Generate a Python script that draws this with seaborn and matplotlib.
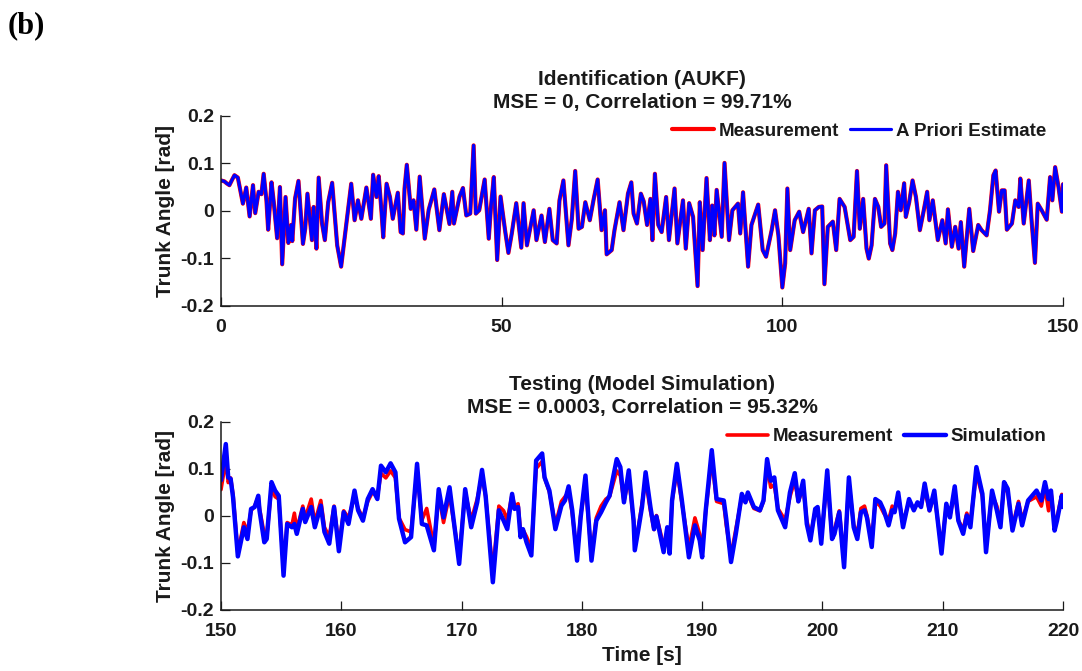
import numpy as np
import pandas as pd
import matplotlib
matplotlib.use("Agg")
import matplotlib.pyplot as plt
import seaborn as sns

# ---------------- Identification segment (0-150 s) ----------------
id_time = [
    0.0, 0.6, 1.0, 1.5, 2.0, 2.4, 3.0, 3.9, 4.5, 5.1, 5.7, 6.1, 6.7, 7.2, 7.6, 8.1, 8.4, 9.0, 9.4, 10.0,
    10.5, 10.9, 11.5, 12.0, 12.5, 12.7, 13.2, 13.8, 14.6, 15.0, 15.4, 16.2, 16.5, 17.0, 17.4, 18.0, 18.5,
    19.1, 19.8, 20.7, 21.4, 22.3, 23.2, 23.8, 24.4, 25.0, 25.9, 26.7, 27.1, 27.7, 28.1, 28.6, 28.9, 29.5,
    30.1, 30.6, 31.5, 32.0, 32.4, 32.7, 33.1, 33.8, 34.3, 34.8, 35.4, 36.3, 37.0, 38.0, 38.9, 39.7, 40.7,
    41.2, 41.5, 42.5, 43.1, 43.7, 44.4, 45.0, 45.4, 46.0, 46.97, 47.7, 48.1, 48.6, 49.2, 49.8, 50.6, 51.2,
    51.8, 52.6, 53.5, 53.9, 54.5, 55.7, 56.2, 57.1, 57.7, 58.5, 59.1, 59.8, 60.3, 61.0, 61.9, 62.5, 63.1,
    63.7, 64.3, 64.9, 65.7, 66.4, 67.1, 67.8, 68.4, 68.7, 69.6, 70.1, 71.0, 71.7, 72.5, 73.1, 73.5, 74.1,
    74.8, 75.3, 75.9, 76.5, 76.85, 77.3, 77.9, 78.5, 79.3, 79.8, 80.8, 81.3, 82.3, 82.8, 83.4, 84.1, 84.9,
    85.3, 85.8, 86.5, 87.1, 87.5, 87.9, 88.3, 89.2, 89.7, 90.5, 91.1, 92.1, 92.5, 93.0, 93.9, 94.5, 95.7,
    96.5, 97.1, 98.1, 98.7, 99.3, 100.0, 100.5, 100.9, 101.4, 102.2, 103.0, 103.7, 104.7, 105.2, 105.8,
    106.5, 107.1, 107.5, 108.1, 109.0, 109.6, 110.2, 111.1, 112.1, 112.7, 113.3, 113.8, 114.4, 115.0,
    115.4, 115.9, 116.5, 117.1, 117.6, 118.2, 118.5, 119.2, 119.6, 120.1, 120.6, 121.1, 121.7, 122.0,
    122.6, 123.2, 123.8, 124.5, 125.2, 125.8, 126.2, 126.8, 127.7, 128.5, 129.1, 129.5, 130.2, 130.8,
    131.4, 131.8, 132.4, 133.3, 134.0, 134.9, 135.5, 136.4, 137.0, 137.6, 138.0, 138.6, 139.1, 139.6,
    140.0, 140.9, 141.5, 142.1, 142.4, 143.0, 143.9, 144.4, 145.0, 145.5, 146.2, 147.1, 147.7, 148.1,
    148.6, 149.2, 149.8, 150.0,
]
id_measurement = [
    0.064, 0.062, 0.058, 0.054, 0.066, 0.075, 0.070, 0.015, 0.049, -0.012, 0.054, -0.005, 0.040, 0.035,
    0.078, 0.021, -0.040, 0.060, 0.018, -0.058, 0.050, -0.113, 0.029, -0.068, -0.030, -0.064, 0.026, 0.063,
    -0.070, -0.038, 0.036, -0.062, 0.008, -0.080, 0.070, -0.027, -0.062, 0.018, 0.059, -0.073, -0.118,
    -0.031, 0.057, -0.020, 0.022, -0.017, 0.049, -0.017, 0.076, 0.029, 0.073, -0.003, -0.056, 0.057, 0.029,
    -0.017, 0.038, -0.045, -0.048, 0.047, 0.097, 0.004, 0.022, -0.040, 0.072, -0.059, 0.002, 0.045, -0.041,
    0.035, -0.028, 0.040, -0.027, 0.030, 0.048, -0.010, -0.006, 0.138, -0.006, 0.001, 0.066, -0.059, 0.009,
    0.071, -0.104, 0.030, -0.041, -0.089, -0.048, 0.016, -0.078, 0.016, -0.073, 0.001, -0.062, -0.010,
    -0.066, 0.004, -0.062, -0.069, 0.022, 0.064, -0.073, -0.017, 0.084, -0.038, -0.034, 0.018, -0.020,
    0.025, 0.066, -0.041, 0.001, -0.092, -0.083, -0.041, 0.018, -0.041, 0.036, 0.060, -0.006, -0.027,
    0.036, 0.020, -0.030, 0.025, -0.062, 0.078, -0.030, -0.045, 0.029, -0.062, 0.047, -0.069, 0.022,
    -0.080, 0.016, -0.013, -0.159, 0.018, -0.083, 0.069, -0.062, 0.011, -0.052, 0.044, -0.055, 0.101,
    -0.062, 0.001, 0.015, -0.048, 0.039, -0.118, -0.030, 0.013, -0.083, -0.097, -0.041, 0.001, -0.052,
    -0.162, -0.111, 0.047, -0.083, -0.020, -0.002, -0.045, 0.004, -0.090, 0.001, 0.008, 0.009, -0.155,
    -0.034, -0.023, -0.083, 0.025, 0.008, -0.062, -0.055, 0.084, -0.038, 0.025, -0.080, -0.101, -0.073,
    0.025, 0.008, -0.034, -0.027, 0.096, -0.069, -0.083, -0.048, 0.040, 0.001, 0.058, -0.013, 0.018,
    0.064, 0.029, -0.041, 0.001, 0.040, -0.020, 0.022, -0.062, -0.020, -0.069, 0.003, -0.076, -0.034,
    -0.080, -0.024, -0.118, 0.004, -0.085, -0.030, -0.041, -0.052, 0.001, 0.075, 0.085, -0.002, 0.043,
    0.043, -0.040, -0.027, 0.022, 0.008, 0.068, -0.027, 0.064, -0.020, -0.110, 0.015, 0.001, -0.019,
    0.071, 0.022, 0.092, 0.050, -0.002, 0.056,
]
# the a priori estimate tracks the measurement almost exactly
id_apriori = list(id_measurement)

# ---------------- Testing segment (150-220 s) ----------------
test_time = [
    150.0, 150.4, 150.6, 150.8, 151.0, 151.4, 151.9, 152.2, 152.5, 152.8, 153.1, 153.2, 153.6, 153.8,
    154.2, 154.5, 154.8, 155.2, 155.5, 155.9, 156.1, 156.3, 156.8, 157.0, 157.5, 157.8, 158.3, 158.6,
    159.0, 159.4, 159.8, 160.2, 160.6, 161.1, 161.4, 161.8, 162.2, 162.6, 163.0, 163.3, 163.7, 164.1,
    164.5, 164.8, 165.3, 165.8, 166.3, 166.7, 167.1, 167.7, 168.1, 168.5, 169.0, 169.8, 170.3, 170.8,
    171.3, 171.7, 172.0, 172.6, 173.1, 173.5, 173.8, 174.2, 174.4, 174.7, 174.9, 175.1, 175.4, 175.8,
    176.2, 176.7, 176.9, 177.3, 177.8, 178.3, 178.6, 178.9, 179.2, 179.6, 179.9, 180.3, 180.8, 181.2,
    181.6, 182.0, 182.3, 182.9, 183.2, 183.5, 183.9, 184.3, 184.4, 184.7, 185.0, 185.3, 185.7, 186.0,
    186.2, 186.8, 187.1, 187.3, 187.5, 187.9, 188.3, 188.9, 189.4, 189.8, 190.0, 190.3, 190.8, 191.2,
    191.8, 192.0, 192.4, 192.8, 193.3, 193.6, 193.8, 194.3, 194.8, 195.1, 195.4, 195.7, 196.0, 196.3,
    196.9, 197.3, 197.7, 198.0, 198.4, 198.7, 199.0, 199.4, 199.6, 199.9, 200.4, 200.8, 201.0, 201.4,
    201.8, 202.2, 202.6, 202.9, 203.2, 203.5, 203.7, 204.1, 204.4, 204.8, 205.1, 205.5, 205.8, 206.0,
    206.3, 206.7, 207.2, 207.6, 207.9, 208.2, 208.5, 208.9, 209.3, 209.9, 210.3, 210.6, 211.0, 211.3,
    211.7, 212.0, 212.3, 212.8, 213.3, 213.6, 214.1, 214.5, 214.8, 215.1, 215.4, 215.8, 216.3, 216.6,
    217.1, 217.8, 218.2, 218.5, 218.8, 219.0, 219.3, 219.5, 219.9, 220.0,
]
test_simulation = [
    0.075, 0.152, 0.081, 0.078, 0.039, -0.087, -0.025, -0.050, 0.014, 0.018, 0.042, 0.011, -0.057, -0.050,
    0.071, 0.053, 0.042, -0.128, -0.018, -0.025, -0.018, -0.039, 0.014, -0.014, 0.018, -0.025, 0.021,
    -0.035, -0.060, 0.018, -0.076, 0.007, -0.018, 0.053, 0.011, -0.011, 0.035, 0.056, 0.035, 0.106, 0.092,
    0.111, 0.092, -0.007, -0.057, -0.046, 0.110, -0.018, -0.021, -0.074, 0.056, -0.004, 0.060, -0.103,
    0.056, -0.025, 0.028, 0.097, 0.042, -0.142, 0.011, -0.011, -0.029, 0.046, 0.014, 0.018, -0.046, -0.029,
    -0.057, -0.085, 0.117, 0.132, 0.081, 0.053, -0.029, 0.021, 0.032, 0.062, 0.011, -0.096, -0.004, 0.085,
    -0.096, -0.011, 0.007, 0.028, 0.042, 0.120, 0.103, 0.028, 0.096, -0.011, -0.074, -0.029, 0.018, 0.092,
    0.018, -0.029, -0.002, -0.078, -0.025, -0.081, 0.032, 0.110, 0.035, -0.089, -0.021, -0.053, -0.089,
    0.011, 0.139, 0.035, 0.032, -0.007, -0.099, -0.039, 0.046, 0.028, 0.049, 0.018, 0.011, 0.032, 0.120,
    0.074, 0.081, 0.011, -0.025, 0.049, 0.090, 0.030, 0.074, -0.018, -0.053, 0.014, 0.018, -0.060, 0.096,
    -0.050, -0.039, 0.007, -0.110, 0.081, -0.025, -0.050, 0.007, 0.011, -0.004, -0.067, 0.035, 0.028,
    0.011, -0.021, 0.011, 0.007, 0.049, -0.025, 0.035, 0.011, 0.028, 0.018, 0.068, 0.011, 0.053, -0.081,
    0.025, -0.004, 0.062, -0.011, -0.039, 0.000, -0.025, 0.103, 0.046, -0.078, 0.053, 0.011, -0.025,
    0.071, 0.057, -0.032, 0.025, -0.021, 0.032, 0.053, 0.032, 0.071, 0.035, 0.053, -0.032, -0.011, 0.042,
    0.018,
]
test_measurement = [
    0.055, 0.118, 0.070, 0.080, 0.045, -0.080, -0.015, -0.035, 0.010, 0.020, 0.040, 0.015, -0.040, -0.045,
    0.060, 0.040, 0.035, -0.110, -0.015, -0.020, 0.005, -0.030, 0.020, -0.005, 0.035, -0.015, 0.032,
    -0.025, -0.045, 0.020, -0.065, 0.010, -0.005, 0.040, 0.015, -0.005, 0.030, 0.050, 0.040, 0.090, 0.080,
    0.095, 0.080, -0.005, -0.030, -0.035, 0.095, -0.010, 0.015, -0.065, 0.045, -0.015, 0.045, -0.090,
    0.050, -0.010, 0.035, 0.085, 0.040, -0.120, 0.020, 0.010, -0.010, 0.045, 0.020, 0.025, -0.035, -0.030,
    -0.045, -0.070, 0.100, 0.115, 0.080, 0.050, -0.020, 0.030, 0.040, 0.050, 0.005, -0.085, 0.000, 0.065,
    -0.085, -0.005, 0.020, 0.035, 0.040, 0.095, 0.085, 0.030, 0.080, -0.010, -0.055, -0.025, 0.025, 0.075,
    0.010, -0.030, 0.000, -0.065, -0.035, -0.070, 0.030, 0.095, 0.030, -0.070, -0.005, -0.040, -0.075,
    0.010, 0.120, 0.030, 0.025, -0.020, -0.085, -0.030, 0.040, 0.030, 0.045, 0.015, 0.010, 0.030, 0.105,
    0.060, 0.065, 0.015, -0.010, 0.040, 0.075, 0.030, 0.060, -0.010, -0.045, 0.010, 0.015, -0.050, 0.080,
    -0.045, -0.030, 0.010, -0.095, 0.070, -0.020, -0.040, 0.015, 0.020, 0.000, -0.055, 0.030, 0.020,
    0.005, -0.010, 0.020, 0.010, 0.040, -0.015, 0.030, 0.015, 0.025, 0.020, 0.055, 0.010, 0.045, -0.070,
    0.020, 0.000, 0.050, -0.010, -0.030, 0.005, -0.015, 0.090, 0.040, -0.065, 0.045, 0.020, -0.015,
    0.060, 0.050, -0.025, 0.030, -0.010, 0.030, 0.040, 0.020, 0.060, 0.010, 0.050, -0.020, -0.005, 0.045,
    0.025,
]

id_ticks = [0, 50, 100, 150]
test_ticks = [150, 160, 170, 180, 190, 200, 210, 220]
angle_ticks = [-0.2, -0.1, 0, 0.1, 0.2]
angle_labels = ["-0.2", "-0.1", "0", "0.1", "0.2"]

id_df = pd.DataFrame({"t": id_time, "meas": id_measurement, "est": id_apriori})
test_df = pd.DataFrame({"t": test_time, "meas": test_measurement, "sim": test_simulation})

sns.set_theme(style="ticks")
plt.rcParams["font.family"] = ["Liberation Sans", "DejaVu Sans"]
plt.rcParams["font.weight"] = "bold"
plt.rcParams["axes.labelweight"] = "bold"
plt.rcParams["axes.titleweight"] = "bold"

fig = plt.figure(figsize=(10.82, 6.71), dpi=100)
ax1 = fig.add_axes([221 / 1082, 1 - 305.5 / 671, 842 / 1082, 189.5 / 671])
ax2 = fig.add_axes([221 / 1082, 1 - 609.5 / 671, 842 / 1082, 188 / 671])

RED = "#FF0000"
BLUE = "#0000FF"
INK = "#1a1a1a"

sns.lineplot(data=id_df, x="t", y="meas", ax=ax1, color=RED, linewidth=3.0,
             estimator=None, sort=False, label="Measurement")
sns.lineplot(data=id_df, x="t", y="est", ax=ax1, color=BLUE, linewidth=2.3,
             estimator=None, sort=False, label="A Priori Estimate")

sns.lineplot(data=test_df, x="t", y="meas", ax=ax2, color=RED, linewidth=2.6,
             estimator=None, sort=False, label="Measurement")
sns.lineplot(data=test_df, x="t", y="sim", ax=ax2, color=BLUE, linewidth=3.2,
             estimator=None, sort=False, label="Simulation")

TICK_FS = 14
for ax, xt in ((ax1, id_ticks), (ax2, test_ticks)):
    ax.set_xlim(xt[0], xt[-1])
    ax.set_xticks(xt)
    ax.set_ylim(-0.2, 0.2)
    ax.set_yticks(angle_ticks)
    ax.set_yticklabels(angle_labels)
    for side in ("top", "right"):
        ax.spines[side].set_visible(False)
    for side in ("left", "bottom"):
        ax.spines[side].set_linewidth(1.1)
        ax.spines[side].set_color(INK)
    ax.tick_params(direction="in", length=6.5, width=0.9, colors=INK,
                   labelsize=TICK_FS, labelcolor=INK)
    ax.tick_params(axis="x", pad=10)
    ax.tick_params(axis="y", pad=5)
    for lbl in ax.get_xticklabels() + ax.get_yticklabels():
        lbl.set_fontweight("bold")
    ax.set_ylabel("Trunk Angle [rad]", fontsize=15, fontweight="bold", labelpad=4, color=INK)
    ax.grid(False)
    leg = ax.legend(loc="upper right", bbox_to_anchor=(1.0, 1.055), ncol=2, frameon=False,
                    handlelength=2.2, handletextpad=0.25, columnspacing=0.6,
                    prop={"weight": "bold", "size": 13.5})
    for txt in leg.get_texts():
        txt.set_color(INK)

ax1.set_xlabel("")
ax2.set_xlabel("Time [s]", fontsize=15, fontweight="bold", labelpad=4, color=INK)

ax1.set_title("Identification (AUKF)\nMSE = 0, Correlation = 99.71%",
              fontsize=15, fontweight="bold", pad=6, linespacing=1.25, color=INK)
ax2.set_title("Testing (Model Simulation)\nMSE = 0.0003, Correlation = 95.32%",
              fontsize=15, fontweight="bold", pad=6, linespacing=1.25, color=INK)

fig.text(8 / 1082, 1 - 26 / 671, "(b)", family=["Liberation Serif", "DejaVu Serif"],
         fontsize=22, fontweight="bold", va="center", ha="left", color="black")

fig.savefig("out.png", dpi=100, facecolor="white")
